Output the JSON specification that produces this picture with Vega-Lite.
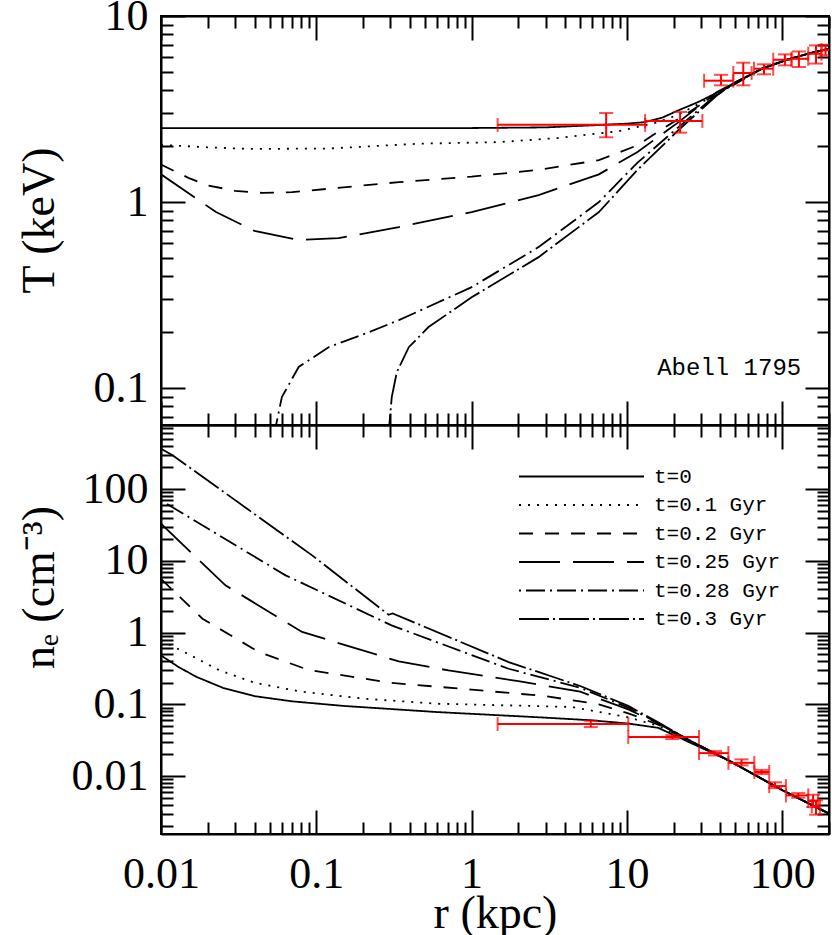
{
  "$schema": "https://vega.github.io/schema/vega-lite/v6.json",
  "padding": {"left": 15, "top": -7, "right": 0, "bottom": 0},
  "spacing": 0,
  "bounds": "flush",
  "config": {
    "view": {"stroke": "black", "strokeWidth": 2},
    "axis": {"grid": false, "domainColor": "black", "domainWidth": 2, "tickColor": "black", "tickWidth": 2,
      "labelFont": "Liberation Serif", "labelFontSize": 44, "labelColor": "black", "labelFlush": false, "labelOverlap": false, "labelBound": false,
      "titleFont": "Liberation Serif", "titleFontSize": 46, "titleFontWeight": "normal", "titleColor": "black"}
  },
  "resolve": {"scale": {"strokeDash": "independent"}},
  "datasets": {
    "tcurves": [
      {"model": "t=0", "r": 0.01, "T": 2.5}, {"model": "t=0", "r": 0.1, "T": 2.5}, {"model": "t=0", "r": 1, "T": 2.5}, {"model": "t=0", "r": 3, "T": 2.52}, {"model": "t=0", "r": 5.66, "T": 2.58}, {"model": "t=0", "r": 10, "T": 2.64}, {"model": "t=0", "r": 13.1, "T": 2.69}, {"model": "t=0", "r": 17, "T": 2.85}, {"model": "t=0", "r": 21.4, "T": 3.11}, {"model": "t=0", "r": 28.8, "T": 3.45}, {"model": "t=0", "r": 47.2, "T": 4.24}, {"model": "t=0", "r": 73.6, "T": 5.21}, {"model": "t=0", "r": 109, "T": 5.85}, {"model": "t=0", "r": 150, "T": 6.3}, {"model": "t=0", "r": 200, "T": 6.67},
      {"model": "t=0.1 Gyr", "r": 0.01, "T": 2.03}, {"model": "t=0.1 Gyr", "r": 0.02, "T": 1.97}, {"model": "t=0.1 Gyr", "r": 0.037, "T": 1.93}, {"model": "t=0.1 Gyr", "r": 0.12, "T": 1.94}, {"model": "t=0.1 Gyr", "r": 0.46, "T": 2.06}, {"model": "t=0.1 Gyr", "r": 1.5, "T": 2.1}, {"model": "t=0.1 Gyr", "r": 3.6, "T": 2.21}, {"model": "t=0.1 Gyr", "r": 8.8, "T": 2.4}, {"model": "t=0.1 Gyr", "r": 15.9, "T": 2.69}, {"model": "t=0.1 Gyr", "r": 21.4, "T": 2.95}, {"model": "t=0.1 Gyr", "r": 28.8, "T": 3.36}, {"model": "t=0.1 Gyr", "r": 47.2, "T": 4.22}, {"model": "t=0.1 Gyr", "r": 73.6, "T": 5.21}, {"model": "t=0.1 Gyr", "r": 109, "T": 5.85}, {"model": "t=0.1 Gyr", "r": 150, "T": 6.3}, {"model": "t=0.1 Gyr", "r": 200, "T": 6.67},
      {"model": "t=0.2 Gyr", "r": 0.01, "T": 1.59}, {"model": "t=0.2 Gyr", "r": 0.015, "T": 1.35}, {"model": "t=0.2 Gyr", "r": 0.02, "T": 1.23}, {"model": "t=0.2 Gyr", "r": 0.03, "T": 1.15}, {"model": "t=0.2 Gyr", "r": 0.045, "T": 1.12}, {"model": "t=0.2 Gyr", "r": 0.07, "T": 1.13}, {"model": "t=0.2 Gyr", "r": 0.12, "T": 1.18}, {"model": "t=0.2 Gyr", "r": 0.34, "T": 1.28}, {"model": "t=0.2 Gyr", "r": 1, "T": 1.37}, {"model": "t=0.2 Gyr", "r": 2.7, "T": 1.49}, {"model": "t=0.2 Gyr", "r": 6.6, "T": 1.68}, {"model": "t=0.2 Gyr", "r": 11.7, "T": 2.02}, {"model": "t=0.2 Gyr", "r": 16, "T": 2.4}, {"model": "t=0.2 Gyr", "r": 21.5, "T": 2.8}, {"model": "t=0.2 Gyr", "r": 30, "T": 3.35}, {"model": "t=0.2 Gyr", "r": 47.2, "T": 4.2}, {"model": "t=0.2 Gyr", "r": 73.6, "T": 5.2}, {"model": "t=0.2 Gyr", "r": 109, "T": 5.85}, {"model": "t=0.2 Gyr", "r": 150, "T": 6.3}, {"model": "t=0.2 Gyr", "r": 200, "T": 6.67},
      {"model": "t=0.25 Gyr", "r": 0.01, "T": 1.41}, {"model": "t=0.25 Gyr", "r": 0.0226, "T": 0.884}, {"model": "t=0.25 Gyr", "r": 0.04, "T": 0.7}, {"model": "t=0.25 Gyr", "r": 0.077, "T": 0.625}, {"model": "t=0.25 Gyr", "r": 0.139, "T": 0.64}, {"model": "t=0.25 Gyr", "r": 0.34, "T": 0.734}, {"model": "t=0.25 Gyr", "r": 1, "T": 0.884}, {"model": "t=0.25 Gyr", "r": 2.7, "T": 1.09}, {"model": "t=0.25 Gyr", "r": 6.6, "T": 1.41}, {"model": "t=0.25 Gyr", "r": 11.7, "T": 1.86}, {"model": "t=0.25 Gyr", "r": 21.5, "T": 2.69}, {"model": "t=0.25 Gyr", "r": 38, "T": 3.9}, {"model": "t=0.25 Gyr", "r": 50, "T": 4.4}, {"model": "t=0.25 Gyr", "r": 73.6, "T": 5.2}, {"model": "t=0.25 Gyr", "r": 109, "T": 5.85}, {"model": "t=0.25 Gyr", "r": 150, "T": 6.3}, {"model": "t=0.25 Gyr", "r": 200, "T": 6.67},
      {"model": "t=0.28 Gyr", "r": 0.054, "T": 0.05}, {"model": "t=0.28 Gyr", "r": 0.055, "T": 0.063}, {"model": "t=0.28 Gyr", "r": 0.06, "T": 0.0895}, {"model": "t=0.28 Gyr", "r": 0.077, "T": 0.13}, {"model": "t=0.28 Gyr", "r": 0.12, "T": 0.166}, {"model": "t=0.28 Gyr", "r": 0.218, "T": 0.2}, {"model": "t=0.28 Gyr", "r": 0.34, "T": 0.232}, {"model": "t=0.28 Gyr", "r": 1, "T": 0.349}, {"model": "t=0.28 Gyr", "r": 2.7, "T": 0.573}, {"model": "t=0.28 Gyr", "r": 6.6, "T": 1.0}, {"model": "t=0.28 Gyr", "r": 11.7, "T": 1.63}, {"model": "t=0.28 Gyr", "r": 21.5, "T": 2.53}, {"model": "t=0.28 Gyr", "r": 38, "T": 3.8}, {"model": "t=0.28 Gyr", "r": 50, "T": 4.4}, {"model": "t=0.28 Gyr", "r": 73.6, "T": 5.2}, {"model": "t=0.28 Gyr", "r": 109, "T": 5.85}, {"model": "t=0.28 Gyr", "r": 150, "T": 6.3}, {"model": "t=0.28 Gyr", "r": 200, "T": 6.67},
      {"model": "t=0.3 Gyr", "r": 0.29, "T": 0.05}, {"model": "t=0.3 Gyr", "r": 0.295, "T": 0.063}, {"model": "t=0.3 Gyr", "r": 0.306, "T": 0.0895}, {"model": "t=0.3 Gyr", "r": 0.33, "T": 0.122}, {"model": "t=0.3 Gyr", "r": 0.394, "T": 0.166}, {"model": "t=0.3 Gyr", "r": 0.528, "T": 0.213}, {"model": "t=0.3 Gyr", "r": 1, "T": 0.308}, {"model": "t=0.3 Gyr", "r": 2.7, "T": 0.506}, {"model": "t=0.3 Gyr", "r": 6.6, "T": 0.884}, {"model": "t=0.3 Gyr", "r": 11.7, "T": 1.49}, {"model": "t=0.3 Gyr", "r": 21.5, "T": 2.44}, {"model": "t=0.3 Gyr", "r": 38, "T": 3.75}, {"model": "t=0.3 Gyr", "r": 50, "T": 4.4}, {"model": "t=0.3 Gyr", "r": 73.6, "T": 5.2}, {"model": "t=0.3 Gyr", "r": 109, "T": 5.85}, {"model": "t=0.3 Gyr", "r": 150, "T": 6.3}, {"model": "t=0.3 Gyr", "r": 200, "T": 6.67}
    ],
    "ncurves": [
      {"model": "t=0", "r": 0.01, "n": 0.48}, {"model": "t=0", "r": 0.013, "n": 0.33}, {"model": "t=0", "r": 0.017, "n": 0.24}, {"model": "t=0", "r": 0.025, "n": 0.17}, {"model": "t=0", "r": 0.04, "n": 0.13}, {"model": "t=0", "r": 0.07, "n": 0.11}, {"model": "t=0", "r": 0.15, "n": 0.095}, {"model": "t=0", "r": 0.6, "n": 0.078}, {"model": "t=0", "r": 2.7, "n": 0.066}, {"model": "t=0", "r": 5.85, "n": 0.06}, {"model": "t=0", "r": 10.2, "n": 0.054}, {"model": "t=0", "r": 15.9, "n": 0.047}, {"model": "t=0", "r": 24.9, "n": 0.03}, {"model": "t=0", "r": 45, "n": 0.0166}, {"model": "t=0", "r": 101, "n": 0.0063}, {"model": "t=0", "r": 200, "n": 0.003},
      {"model": "t=0.1 Gyr", "r": 0.01, "n": 0.78}, {"model": "t=0.1 Gyr", "r": 0.015, "n": 0.5}, {"model": "t=0.1 Gyr", "r": 0.0236, "n": 0.3}, {"model": "t=0.1 Gyr", "r": 0.04, "n": 0.2}, {"model": "t=0.1 Gyr", "r": 0.08, "n": 0.15}, {"model": "t=0.1 Gyr", "r": 0.2, "n": 0.12}, {"model": "t=0.1 Gyr", "r": 0.6, "n": 0.102}, {"model": "t=0.1 Gyr", "r": 4.4, "n": 0.092}, {"model": "t=0.1 Gyr", "r": 10.2, "n": 0.066}, {"model": "t=0.1 Gyr", "r": 15.9, "n": 0.05}, {"model": "t=0.1 Gyr", "r": 24.9, "n": 0.031}, {"model": "t=0.1 Gyr", "r": 45, "n": 0.0166}, {"model": "t=0.1 Gyr", "r": 101, "n": 0.0063}, {"model": "t=0.1 Gyr", "r": 200, "n": 0.003},
      {"model": "t=0.2 Gyr", "r": 0.01, "n": 5.6}, {"model": "t=0.2 Gyr", "r": 0.0185, "n": 1.56}, {"model": "t=0.2 Gyr", "r": 0.0427, "n": 0.535}, {"model": "t=0.2 Gyr", "r": 0.0895, "n": 0.3}, {"model": "t=0.2 Gyr", "r": 0.3, "n": 0.2}, {"model": "t=0.2 Gyr", "r": 1, "n": 0.16}, {"model": "t=0.2 Gyr", "r": 3, "n": 0.13}, {"model": "t=0.2 Gyr", "r": 6.6, "n": 0.1}, {"model": "t=0.2 Gyr", "r": 10.2, "n": 0.075}, {"model": "t=0.2 Gyr", "r": 15.9, "n": 0.052}, {"model": "t=0.2 Gyr", "r": 24.9, "n": 0.031}, {"model": "t=0.2 Gyr", "r": 45, "n": 0.0166}, {"model": "t=0.2 Gyr", "r": 101, "n": 0.0063}, {"model": "t=0.2 Gyr", "r": 200, "n": 0.003},
      {"model": "t=0.25 Gyr", "r": 0.01, "n": 32.8}, {"model": "t=0.25 Gyr", "r": 0.026, "n": 4.55}, {"model": "t=0.25 Gyr", "r": 0.081, "n": 1.02}, {"model": "t=0.25 Gyr", "r": 0.34, "n": 0.396}, {"model": "t=0.25 Gyr", "r": 0.71, "n": 0.297}, {"model": "t=0.25 Gyr", "r": 2, "n": 0.21}, {"model": "t=0.25 Gyr", "r": 5, "n": 0.15}, {"model": "t=0.25 Gyr", "r": 10.2, "n": 0.085}, {"model": "t=0.25 Gyr", "r": 15.9, "n": 0.054}, {"model": "t=0.25 Gyr", "r": 24.9, "n": 0.032}, {"model": "t=0.25 Gyr", "r": 45, "n": 0.0166}, {"model": "t=0.25 Gyr", "r": 101, "n": 0.0063}, {"model": "t=0.25 Gyr", "r": 200, "n": 0.003},
      {"model": "t=0.28 Gyr", "r": 0.01, "n": 69.5}, {"model": "t=0.28 Gyr", "r": 0.0634, "n": 6.27}, {"model": "t=0.28 Gyr", "r": 0.305, "n": 1.26}, {"model": "t=0.28 Gyr", "r": 1.73, "n": 0.313}, {"model": "t=0.28 Gyr", "r": 5, "n": 0.17}, {"model": "t=0.28 Gyr", "r": 10.2, "n": 0.09}, {"model": "t=0.28 Gyr", "r": 15.9, "n": 0.055}, {"model": "t=0.28 Gyr", "r": 24.9, "n": 0.032}, {"model": "t=0.28 Gyr", "r": 45, "n": 0.0166}, {"model": "t=0.28 Gyr", "r": 101, "n": 0.0063}, {"model": "t=0.28 Gyr", "r": 200, "n": 0.003},
      {"model": "t=0.3 Gyr", "r": 0.01, "n": 365}, {"model": "t=0.3 Gyr", "r": 0.0118, "n": 298}, {"model": "t=0.3 Gyr", "r": 0.094, "n": 11.9}, {"model": "t=0.3 Gyr", "r": 0.292, "n": 1.77}, {"model": "t=0.3 Gyr", "r": 0.31, "n": 1.85}, {"model": "t=0.3 Gyr", "r": 1.73, "n": 0.388}, {"model": "t=0.3 Gyr", "r": 5, "n": 0.18}, {"model": "t=0.3 Gyr", "r": 10.2, "n": 0.095}, {"model": "t=0.3 Gyr", "r": 15.9, "n": 0.056}, {"model": "t=0.3 Gyr", "r": 24.9, "n": 0.032}, {"model": "t=0.3 Gyr", "r": 45, "n": 0.0166}, {"model": "t=0.3 Gyr", "r": 101, "n": 0.0063}, {"model": "t=0.3 Gyr", "r": 200, "n": 0.003}
    ],
    "tdata": [
      {"r": 7.35, "rlo": 1.47, "rhi": 13.1, "T": 2.6, "Tlo": 2.23, "Thi": 3.01},
      {"r": 22.0, "rlo": 13.1, "rhi": 30.6, "T": 2.73, "Tlo": 2.36, "Thi": 3.05},
      {"r": 40.3, "rlo": 31.4, "rhi": 48.4, "T": 4.49, "Tlo": 4.24, "Thi": 4.83},
      {"r": 56.1, "rlo": 48.4, "rhi": 63.5, "T": 4.94, "Tlo": 4.24, "Thi": 5.61},
      {"r": 76.3, "rlo": 65.8, "rhi": 87.5, "T": 5.21, "Tlo": 4.86, "Thi": 5.5},
      {"r": 104, "rlo": 87.5, "rhi": 114.8, "T": 5.82, "Tlo": 5.43, "Thi": 6.22},
      {"r": 128, "rlo": 114.8, "rhi": 147, "T": 5.89, "Tlo": 5.32, "Thi": 6.45},
      {"r": 165, "rlo": 147, "rhi": 179, "T": 6.27, "Tlo": 5.55, "Thi": 6.95},
      {"r": 190, "rlo": 179, "rhi": 215, "T": 6.55, "Tlo": 6.15, "Thi": 7.01}
    ],
    "ndata": [
      {"r": 5.85, "rlo": 1.47, "rhi": 10.2, "n": 0.0531, "nlo": 0.0482, "nhi": 0.059},
      {"r": 19.6, "rlo": 10.2, "rhi": 29.1, "n": 0.035, "nlo": 0.0328, "nhi": 0.0372},
      {"r": 36.9, "rlo": 29.1, "rhi": 45.0, "n": 0.0209, "nlo": 0.0194, "nhi": 0.0223},
      {"r": 54.7, "rlo": 45.0, "rhi": 66.1, "n": 0.0153, "nlo": 0.0141, "nhi": 0.0171},
      {"r": 73.6, "rlo": 66.1, "rhi": 82.4, "n": 0.0114, "nlo": 0.0107, "nhi": 0.0122},
      {"r": 89.8, "rlo": 82.4, "rhi": 105.6, "n": 0.00726, "nlo": 0.0068, "nhi": 0.0082},
      {"r": 126.8, "rlo": 105.6, "rhi": 147, "n": 0.00538, "nlo": 0.005, "nhi": 0.0058},
      {"r": 158, "rlo": 147, "rhi": 170, "n": 0.0045, "nlo": 0.0037, "nhi": 0.0055},
      {"r": 165, "rlo": 155, "rhi": 175, "n": 0.0038, "nlo": 0.0029, "nhi": 0.0046}
    ]
  },
  "vconcat": [
    {
      "width": 668, "height": 409,
      "resolve": {"axis": {"x": "independent", "y": "independent"}},
      "layer": [
        {
          "data": {"name": "tcurves"},
          "mark": {"type": "line", "clip": true, "color": "black", "strokeWidth": 1.8},
          "encoding": {
            "x": {"field": "r", "type": "quantitative", "scale": {"type": "log", "domain": [0.01, 200], "nice": false},
              "axis": {"orient": "bottom", "title": null, "labels": false, "values": [0.01,0.02,0.03,0.04,0.05,0.06,0.07,0.08,0.09,0.1,0.2,0.3,0.4,0.5,0.6,0.7,0.8,0.9,1,2,3,4,5,6,7,8,9,10,20,30,40,50,60,70,80,90,100,200],
                "tickSize": {"condition": {"test": "indexof([0.01,0.1,1,10,100], datum.value) >= 0", "value": -24}, "value": -12}}},
            "y": {"field": "T", "type": "quantitative", "scale": {"type": "log", "domain": [0.0634, 10], "nice": false},
              "axis": {"orient": "left", "title": "T (keV)", "values": [0.07,0.08,0.09,0.1,0.2,0.3,0.4,0.5,0.6,0.7,0.8,0.9,1,2,3,4,5,6,7,8,9,10],
                "labelExpr": "indexof([0.01,0.1,1,10,100], datum.value) >= 0 ? format(datum.value, '~g') : ''",
                "labelPadding": 37, "titleX": -122, "titleY": 204, "titleAngle": 270, "titleAlign": "center", "titleBaseline": "middle",
                "tickSize": {"condition": {"test": "indexof([0.01,0.1,1,10,100], datum.value) >= 0", "value": -24}, "value": -12}}},
            "strokeDash": {"field": "model", "type": "nominal", "legend": null,
              "scale": {"domain": ["t=0", "t=0.1 Gyr", "t=0.2 Gyr", "t=0.25 Gyr", "t=0.28 Gyr", "t=0.3 Gyr"],
                "range": [[1, 0], [2, 7], [14, 12], [41, 13], [2, 5, 19, 5], [30, 4, 2, 4]]}}
          }
        },
        {
          "data": {"name": "tdata"},
          "mark": {"type": "rule", "clip": true, "color": "#ff0000", "strokeWidth": 2},
          "encoding": {
            "x": {"field": "rlo", "type": "quantitative", "axis": null},
            "x2": {"field": "rhi"},
            "y": {"field": "T", "type": "quantitative", "axis": null}
          }
        },
        {
          "data": {"name": "tdata"},
          "mark": {"type": "rule", "clip": true, "color": "#ff0000", "strokeWidth": 2},
          "encoding": {
            "x": {"field": "r", "type": "quantitative",
              "axis": {"orient": "top", "title": null, "labels": false, "values": [0.01,0.02,0.03,0.04,0.05,0.06,0.07,0.08,0.09,0.1,0.2,0.3,0.4,0.5,0.6,0.7,0.8,0.9,1,2,3,4,5,6,7,8,9,10,20,30,40,50,60,70,80,90,100,200],
                "tickSize": {"condition": {"test": "indexof([0.01,0.1,1,10,100], datum.value) >= 0", "value": -24}, "value": -12}}},
            "y": {"field": "Tlo", "type": "quantitative",
              "axis": {"orient": "right", "title": null, "labels": false, "values": [0.07,0.08,0.09,0.1,0.2,0.3,0.4,0.5,0.6,0.7,0.8,0.9,1,2,3,4,5,6,7,8,9,10],
                "tickSize": {"condition": {"test": "indexof([0.01,0.1,1,10,100], datum.value) >= 0", "value": -24}, "value": -12}}},
            "y2": {"field": "Thi"}
          }
        },
        {
          "data": {"name": "tdata"},
          "transform": [{"fold": ["rlo", "rhi"], "as": ["end", "rend"]}],
          "mark": {"type": "tick", "clip": true, "color": "#ff0000", "orient": "vertical", "size": 14, "thickness": 2},
          "encoding": {
            "x": {"field": "rend", "type": "quantitative", "axis": null},
            "y": {"field": "T", "type": "quantitative", "axis": null}
          }
        },
        {
          "data": {"name": "tdata"},
          "transform": [{"fold": ["Tlo", "Thi"], "as": ["end", "Tend"]}],
          "mark": {"type": "tick", "clip": true, "color": "#ff0000", "orient": "horizontal", "size": 14, "thickness": 2},
          "encoding": {
            "x": {"field": "r", "type": "quantitative", "axis": null},
            "y": {"field": "Tend", "type": "quantitative", "axis": null}
          }
        },
        {
          "data": {"values": [{"label": "Abell 1795", "r": 132.5, "T": 0.1175}]},
          "mark": {"type": "text", "align": "right", "baseline": "alphabetic", "font": "Liberation Mono", "fontSize": 24, "color": "black"},
          "encoding": {
            "x": {"field": "r", "type": "quantitative", "axis": null},
            "y": {"field": "T", "type": "quantitative", "axis": null},
            "text": {"field": "label"}
          }
        }
      ]
    },
    {
      "width": 668, "height": 409,
      "resolve": {"axis": {"x": "independent", "y": "independent"}},
      "layer": [
        {
          "data": {"name": "ncurves"},
          "mark": {"type": "line", "clip": true, "color": "black", "strokeWidth": 1.8},
          "encoding": {
            "x": {"field": "r", "type": "quantitative", "scale": {"type": "log", "domain": [0.01, 200], "nice": false},
              "axis": {"orient": "bottom", "title": "r (kpc)", "titleFontSize": 46, "labelPadding": 42, "values": [0.01,0.02,0.03,0.04,0.05,0.06,0.07,0.08,0.09,0.1,0.2,0.3,0.4,0.5,0.6,0.7,0.8,0.9,1,2,3,4,5,6,7,8,9,10,20,30,40,50,60,70,80,90,100,200],
                "labelExpr": "indexof([0.01,0.1,1,10,100], datum.value) >= 0 ? format(datum.value, '~g') : ''",
                "titleX": 334, "titleY": 79, "titleAlign": "center", "titleBaseline": "middle",
                "tickSize": {"condition": {"test": "indexof([0.01,0.1,1,10,100], datum.value) >= 0", "value": -24}, "value": -12}}},
            "y": {"field": "n", "type": "quantitative", "scale": {"type": "log", "domain": [0.00156, 780], "nice": false},
              "axis": {"orient": "left", "title": "nₑ (cm⁻³)", "values": [0.002,0.003,0.004,0.005,0.006,0.007,0.008,0.009,0.01,0.02,0.03,0.04,0.05,0.06,0.07,0.08,0.09,0.1,0.2,0.3,0.4,0.5,0.6,0.7,0.8,0.9,1,2,3,4,5,6,7,8,9,10,20,30,40,50,60,70,80,90,100,200,300,400,500,600,700],
                "labelExpr": "indexof([0.01,0.1,1,10,100], datum.value) >= 0 ? format(datum.value, '~g') : ''",
                "labelPadding": 37, "titleX": -122, "titleY": 162, "titleAngle": 270, "titleAlign": "center", "titleBaseline": "middle",
                "tickSize": {"condition": {"test": "indexof([0.01,0.1,1,10,100], datum.value) >= 0", "value": -24}, "value": -12}}},
            "strokeDash": {"field": "model", "type": "nominal",
              "scale": {"domain": ["t=0", "t=0.1 Gyr", "t=0.2 Gyr", "t=0.25 Gyr", "t=0.28 Gyr", "t=0.3 Gyr"],
                "range": [[1, 0], [2, 7], [14, 12], [41, 13], [2, 5, 19, 5], [30, 4, 2, 4]]},
              "legend": {"title": null, "orient": "none", "legendX": 407, "legendY": 38, "padding": 0,
                "symbolType": "M-5,0H5", "symbolSize": 625, "symbolStrokeWidth": 1.8, "symbolStrokeColor": "black", "symbolFillColor": "transparent",
                "labelFont": "Liberation Mono", "labelFontSize": 21, "labelColor": "black", "labelOffset": 59, "rowPadding": 4.5}}
          }
        },
        {
          "data": {"name": "ndata"},
          "mark": {"type": "rule", "clip": true, "color": "#ff0000", "strokeWidth": 2},
          "encoding": {
            "x": {"field": "rlo", "type": "quantitative", "axis": null},
            "x2": {"field": "rhi"},
            "y": {"field": "n", "type": "quantitative", "axis": null}
          }
        },
        {
          "data": {"name": "ndata"},
          "mark": {"type": "rule", "clip": true, "color": "#ff0000", "strokeWidth": 2},
          "encoding": {
            "x": {"field": "r", "type": "quantitative",
              "axis": {"orient": "top", "title": null, "labels": false, "values": [0.01,0.02,0.03,0.04,0.05,0.06,0.07,0.08,0.09,0.1,0.2,0.3,0.4,0.5,0.6,0.7,0.8,0.9,1,2,3,4,5,6,7,8,9,10,20,30,40,50,60,70,80,90,100,200],
                "tickSize": {"condition": {"test": "indexof([0.01,0.1,1,10,100], datum.value) >= 0", "value": -24}, "value": -12}}},
            "y": {"field": "nlo", "type": "quantitative",
              "axis": {"orient": "right", "title": null, "labels": false, "values": [0.002,0.003,0.004,0.005,0.006,0.007,0.008,0.009,0.01,0.02,0.03,0.04,0.05,0.06,0.07,0.08,0.09,0.1,0.2,0.3,0.4,0.5,0.6,0.7,0.8,0.9,1,2,3,4,5,6,7,8,9,10,20,30,40,50,60,70,80,90,100,200,300,400,500,600,700],
                "tickSize": {"condition": {"test": "indexof([0.01,0.1,1,10,100], datum.value) >= 0", "value": -24}, "value": -12}}},
            "y2": {"field": "nhi"}
          }
        },
        {
          "data": {"name": "ndata"},
          "transform": [{"fold": ["rlo", "rhi"], "as": ["end", "rend"]}],
          "mark": {"type": "tick", "clip": true, "color": "#ff0000", "orient": "vertical", "size": 14, "thickness": 2},
          "encoding": {
            "x": {"field": "rend", "type": "quantitative", "axis": null},
            "y": {"field": "n", "type": "quantitative", "axis": null}
          }
        },
        {
          "data": {"name": "ndata"},
          "transform": [{"fold": ["nlo", "nhi"], "as": ["end", "nend"]}],
          "mark": {"type": "tick", "clip": true, "color": "#ff0000", "orient": "horizontal", "size": 14, "thickness": 2},
          "encoding": {
            "x": {"field": "r", "type": "quantitative", "axis": null},
            "y": {"field": "nend", "type": "quantitative", "axis": null}
          }
        }
      ]
    }
  ]
}
